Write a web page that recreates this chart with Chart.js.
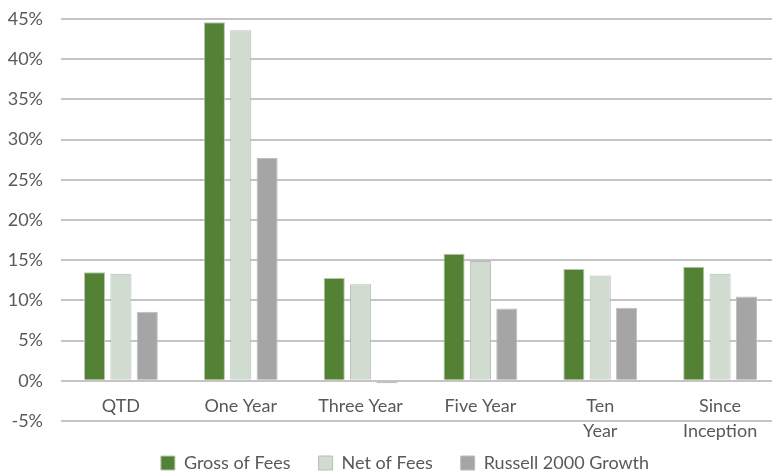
<!DOCTYPE html>
<html>
<head>
<meta charset="utf-8">
<script src="https://cdn.jsdelivr.net/npm/chart.js@4"></script>
<style>
  html, body { margin: 0; padding: 0; background: #fff; overflow: hidden; }
  #wrap { width: 790px; height: 472px; }
</style>
</head>
<body>
<div id="wrap"><canvas id="perfChart"></canvas></div>
<script>
'use strict';

// Categories (multi-line labels as in the original)
const CATEGORIES = ['QTD', 'One Year', 'Three Year', 'Five Year', ['Ten', 'Year'], ['Since', 'Inception']];

// Series values (%)
const GROSS   = [13.5, 44.6, 12.8, 15.8, 13.9, 14.2];
const NET     = [13.3, 43.6, 12.0, 14.9, 13.1, 13.3];
const RUSSELL = [8.6, 27.7, -0.3, 9.0, 9.1, 10.5];

// Y axis range / step
const Y_MIN = -5;
const Y_MAX = 45;
const Y_STEP = 5;

const TEXT = '#595959';
const FONT = "Lato, 'Open Sans', sans-serif";

// nudge the legend: the plot in the original runs past the right edge,
// and the legend sits lower than Chart.js puts it
const legendShift = {
  id: 'legendShift',
  afterLayout(chart) {
    const lg = chart.legend;
    if (!lg) return;
    lg.left += 15;
    lg.right += 15;
    lg.top += 5;
    lg.bottom += 5;
  },
};

new Chart(document.getElementById('perfChart'), {
  type: 'bar',
  data: {
    labels: CATEGORIES,
    datasets: [
      { label: 'Gross of Fees',       data: GROSS,   backgroundColor: '#548235', borderColor: '#b8c4b0', borderWidth: 1 },
      { label: 'Net of Fees',         data: NET,     backgroundColor: '#cfdccf', borderColor: '#b9bdb9', borderWidth: 1 },
      { label: 'Russell 2000 Growth', data: RUSSELL, backgroundColor: '#a5a5a5', borderColor: '#bdbdbd', borderWidth: 1 },
    ],
  },
  options: {
    responsive: true,
    maintainAspectRatio: false,
    animation: false,
    layout: { padding: { top: 19, right: 10, left: 0, bottom: -5 } },
    datasets: {
      bar: { categoryPercentage: 0.66, barPercentage: 0.8 },
    },
    plugins: {
      legend: {
        position: 'bottom',
        labels: {
          color: TEXT,
          font: { size: 18, family: FONT },
          boxWidth: 14,
          boxHeight: 14,
          padding: 28,
        },
      },
      tooltip: { enabled: false },
    },
    scales: {
      x: {
        position: { y: 0 },
        grid: { display: false, drawTicks: false },
        border: { display: false },
        afterFit: (s) => { s.height = 0; s.paddingTop = 0; s.paddingBottom = 0; },
        ticks: {
          color: TEXT,
          font: { size: 18, family: FONT, lineHeight: 1.4 },
          padding: 13,
          maxRotation: 0,
          autoSkip: false,
        },
      },
      y: {
        min: Y_MIN,
        max: Y_MAX,
        border: { display: false },
        grid: { color: '#c4c4c4', lineWidth: 2, drawTicks: false },
        afterFit: (s) => { s.width = 61; s.paddingTop = 0; s.paddingBottom = 0; },
        ticks: {
          stepSize: Y_STEP,
          color: TEXT,
          font: { size: 18, family: FONT },
          padding: 18,
          callback: (v) => v + '%',
        },
      },
    },
  },
  plugins: [legendShift],
});
</script>
</body>
</html>
